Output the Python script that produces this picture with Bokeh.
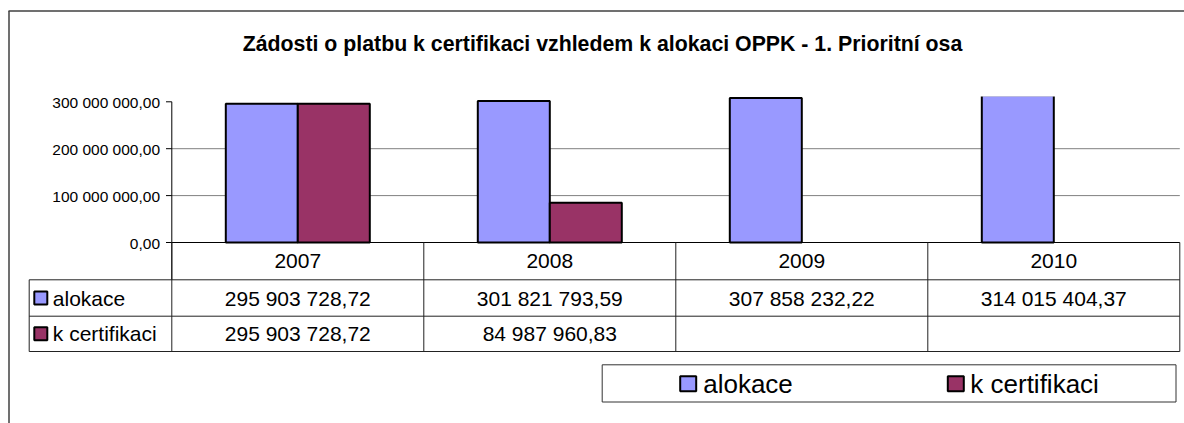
import numpy as np
from bokeh.plotting import figure
from bokeh.models import Range1d
from bokeh.embed import file_html
from bokeh.resources import INLINE
from bokeh.core.properties import value

# ---------------- data ----------------
years = ["2007", "2008", "2009", "2010"]
alokace = [295903728.72, 301821793.59, 307858232.22, 314015404.37]
k_certifikaci = [295903728.72, 84987960.83, None, None]
series_names = ["alokace", "k certifikaci"]
series_colors = ["#9999FF", "#993366"]
y_ticks = [0, 100000000, 200000000, 300000000]
y_tick_labels = ["0,00", "100 000 000,00", "200 000 000,00", "300 000 000,00"]
title_text = "Zádosti o platbu k certifikaci vzhledem k alokaci OPPK - 1. Prioritní osa"


def fmt_cz(v):
    if v is None:
        return ""
    return f"{v:,.2f}".replace(",", " ").replace(".", ",")


# ---------------- layout (page pixels) ----------------
PAGE = 0
W, H = 1184, 423
AX_PX = 171.3          # value axis / left of first category
CAT_PX = 252.0         # width of one category
ZERO_PY = 242.0        # pixel row of value 0
PX_PER_VAL = 46.9 / 1e8
PLOT_TOP_PY = 96.0


def X(px):
    return (px - AX_PX) / CAT_PX


def Y(py):
    return (ZERO_PY - py) / PX_PER_VAL


FONT = value("Liberation Sans")
LINE = "#222222"

p = figure(width=W, height=H, output_backend="svg", toolbar_location=None,
           x_range=Range1d(X(PAGE), X(PAGE + W)),
           y_range=Range1d(Y(PAGE + H), Y(PAGE)),
           x_axis_location=None, y_axis_location=None, min_border=0,
           outline_line_color=None, background_fill_color="white",
           border_fill_color="white")
p.grid.visible = False

n = len(years)
cats = np.arange(n)
xmax = float(n)

# outer chart border (top and left)
p.segment(x0=[X(8), X(8.5)], y0=[Y(10.5), Y(10.5)],
          x1=[X(PAGE + W), X(8.5)], y1=[Y(10.5), Y(PAGE + H)],
          line_color="#404040", line_width=1.5)

# title
p.text(x=[X(602)], y=[Y(43.5)], text=[title_text], text_font=FONT,
       text_font_size="21.3px", text_font_style="bold", text_align="center",
       text_baseline="middle", text_color="black")

# gridlines (inner ticks)
grid_vals = y_ticks[1:-1]
p.segment(x0=[0] * len(grid_vals), y0=grid_vals, x1=[xmax] * len(grid_vals),
          y1=grid_vals, line_color="#808080", line_width=1)

# bars (gap width 150%)
bw = 1 / 3.5
vals = [np.array(alokace, dtype=float), np.array(k_certifikaci, dtype=float)]
for j, (vv, col) in enumerate(zip(vals, series_colors)):
    p.vbar(x=cats + 0.5 + (j - 0.5) * bw, top=vv, bottom=0, width=bw,
           fill_color=col, line_color="black", line_width=2)

# clip bars at the top of the plot area
p.quad(left=[0], right=[xmax], bottom=[Y(PLOT_TOP_PY)], top=[Y(PLOT_TOP_PY - 8)],
       fill_color="white", line_color=None)

# value axis
table_rows_py = [279.3, 315.7, 351.0]
p.segment(x0=[0], y0=[y_ticks[-1]], x1=[0], y1=[Y(table_rows_py[0])],
          line_color="black", line_width=1)
p.segment(x0=[X(165.5)] * len(y_ticks), y0=y_ticks, x1=[0] * len(y_ticks),
          y1=y_ticks, line_color="black", line_width=1)
p.text(x=[X(159.5)] * len(y_ticks), y=y_ticks, text=y_tick_labels, text_font=FONT,
       text_font_size="15.5px", text_align="right", text_baseline="middle",
       text_color="black", y_offset=1)

# data table
p.segment(x0=[0], y0=[0], x1=[xmax], y1=[0], line_color="black", line_width=1)
p.segment(x0=list(range(n + 1)), y0=[0] * (n + 1), x1=list(range(n + 1)),
          y1=[Y(table_rows_py[-1])] * (n + 1), line_color=LINE, line_width=1)
TBL_LEFT = 28.7
p.segment(x0=[X(TBL_LEFT)] * 3, y0=[Y(v) for v in table_rows_py],
          x1=[xmax] * 3, y1=[Y(v) for v in table_rows_py],
          line_color=LINE, line_width=1)
p.segment(x0=[X(TBL_LEFT)], y0=[Y(table_rows_py[0])], x1=[X(TBL_LEFT)],
          y1=[Y(table_rows_py[-1])], line_color=LINE, line_width=1)

header_cy = (ZERO_PY + table_rows_py[0]) / 2
p.text(x=cats + 0.5, y=[Y(header_cy)] * n, text=years, text_font=FONT,
       text_font_size="21px", text_align="center", text_baseline="middle",
       text_color="black")

row_cys = [(table_rows_py[0] + table_rows_py[1]) / 2,
           (table_rows_py[1] + table_rows_py[2]) / 2]
series_vals = [alokace, k_certifikaci]
for name, col, cy, sv in zip(series_names, series_colors, row_cys, series_vals):
    p.rect(x=[X(40.3)], y=[Y(cy)], width=13, height=13, width_units="screen",
           height_units="screen", fill_color=col, line_color="black", line_width=2)
    p.text(x=[X(52.3)], y=[Y(cy)], text=[name], text_font=FONT,
           text_font_size="21px", text_align="left", text_baseline="middle",
           text_color="black")
    p.text(x=cats + 0.5, y=[Y(cy)] * n, text=[fmt_cz(v) for v in sv],
           text_font=FONT, text_font_size="21px", text_align="center",
           text_baseline="middle", text_color="black")

# legend
LEG = dict(left=601.7, right=1175.5, top=364.3, bottom=401.5)
p.quad(left=[X(LEG["left"])], right=[X(LEG["right"])], top=[Y(LEG["top"])],
       bottom=[Y(LEG["bottom"])], fill_color="white", line_color="#333333",
       line_width=1)
leg_cy = 383.3
key_px = [687.7, 955.3]
text_px = [702.7, 969.8]
for name, col, kx, tx in zip(series_names, series_colors, key_px, text_px):
    p.rect(x=[X(kx)], y=[Y(leg_cy)], width=16, height=15, width_units="screen",
           height_units="screen", fill_color=col, line_color="black", line_width=2)
    p.text(x=[X(tx)], y=[Y(leg_cy)], text=[name], text_font=FONT,
           text_font_size="26px", text_align="left", text_baseline="middle",
           text_color="black")

open("out.html", "w").write(file_html(p, INLINE))
